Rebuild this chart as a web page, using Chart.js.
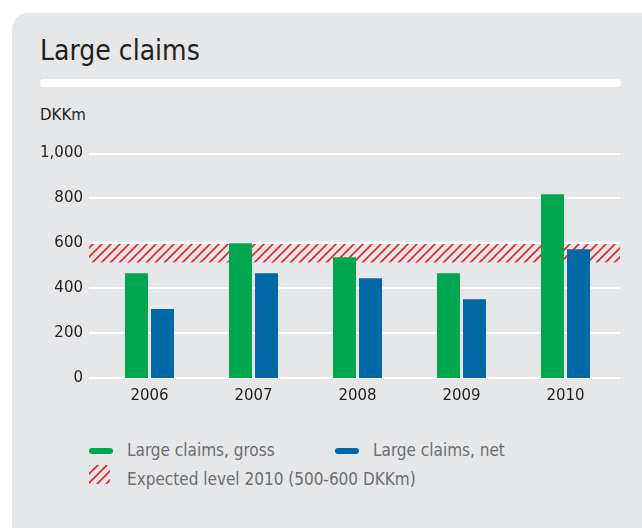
<!DOCTYPE html>
<html>
<head>
<meta charset="utf-8">
<script src="https://cdn.jsdelivr.net/npm/chart.js@4/dist/chart.umd.min.js"></script>
<style>
  html, body { margin: 0; padding: 0; background: #ffffff; width: 642px; height: 528px; overflow: hidden; }
  #card { position: absolute; left: 12px; top: 13px; width: 645px; height: 530px; background: #e6e7e8; border-radius: 16px; }
  #title { position: absolute; left: 40px; top: 37px; font-family: "DejaVu Sans Condensed", "DejaVu Sans", sans-serif; font-size: 28px; color: #231f20; line-height: 1; white-space: nowrap; }
  #rule { position: absolute; left: 40px; top: 79px; width: 581px; height: 8px; background: #ffffff; border-radius: 4px; }
  #unit { position: absolute; left: 40px; top: 108px; font-family: "DejaVu Sans", sans-serif; font-size: 15px; color: #231f20; line-height: 1; }
  #wrap { position: absolute; left: 0; top: 130px; width: 642px; height: 280px; }
  .leg { position: absolute; font-family: "DejaVu Sans Condensed", "DejaVu Sans", sans-serif; font-size: 17px; color: #6d6e71; line-height: 1; white-space: nowrap; }
  .mk { position: absolute; width: 24px; height: 6px; border-radius: 3px; }
</style>
</head>
<body>
<div id="card"></div>
<div id="title">Large claims</div>
<div id="rule"></div>
<div id="unit">DKKm</div>
<div id="wrap"><canvas id="c" width="642" height="280"></canvas></div>
<div class="mk" id="mk0" style="left:89px; top:448px;"></div>
<div class="leg" id="lg0" style="left:127px; top:442px;"></div>
<div class="mk" id="mk1" style="left:335px; top:448px;"></div>
<div class="leg" id="lg1" style="left:373px; top:442px;"></div>
<canvas id="mk2" width="21" height="19" style="position:absolute; left:89px; top:465px;"></canvas>
<div class="leg" id="lg2" style="left:127px; top:471px;"></div>
<script>
// ---- data ----
const years = ['2006', '2007', '2008', '2009', '2010'];
const grossValues = [467, 600, 538, 467, 818];
const netValues = [307, 467, 444, 351, 573];
const expectedLow = 515;
const expectedHigh = 600;
const yTicks = [0, 200, 400, 600, 800, 1000];
const seriesLabels = ['Large claims, gross', 'Large claims, net', 'Expected level 2010 (500-600 DKKm)'];

// ---- styles ----
const GREEN = '#00a650';
const BLUE = '#0068a5';
const RED = '#e8242b';

function makeHatch(ctx) {
  const p = document.createElement('canvas');
  p.width = 9; p.height = 9;
  const g = p.getContext('2d');
  g.strokeStyle = RED;
  g.lineWidth = 1.6;
  g.beginPath();
  g.moveTo(-1, 10); g.lineTo(10, -1);
  g.moveTo(-2, 2); g.lineTo(2, -2);
  g.moveTo(7, 11); g.lineTo(11, 7);
  g.stroke();
  return ctx.createPattern(p, 'repeat');
}

document.getElementById('mk0').style.background = GREEN;
document.getElementById('mk1').style.background = BLUE;
document.getElementById('lg0').textContent = seriesLabels[0];
document.getElementById('lg1').textContent = seriesLabels[1];
document.getElementById('lg2').textContent = seriesLabels[2];
(function () {
  const c = document.getElementById('mk2');
  const g = c.getContext('2d');
  g.fillStyle = makeHatch(g);
  g.fillRect(0, 0, c.width, c.height);
})();

const GRID_LEFT = 89, GRID_RIGHT = 620;

const backdrop = {
  id: 'backdrop',
  beforeDatasetsDraw(chart) {
    const ctx = chart.ctx;
    const ys = chart.scales.y;
    ctx.save();
    const top = ys.getPixelForValue(expectedHigh);
    const bot = ys.getPixelForValue(expectedLow);
    ctx.fillStyle = makeHatch(ctx);
    ctx.fillRect(GRID_LEFT, top, GRID_RIGHT - GRID_LEFT, bot - top);
    ctx.strokeStyle = '#ffffff';
    ctx.lineWidth = 2;
    yTicks.forEach(v => {
      const y = Math.round(ys.getPixelForValue(v));
      ctx.beginPath();
      ctx.moveTo(GRID_LEFT, y);
      ctx.lineTo(GRID_RIGHT, y);
      ctx.stroke();
    });
    ctx.restore();
  }
};

new Chart(document.getElementById('c'), {
  type: 'bar',
  data: {
    labels: years,
    datasets: [
      { label: seriesLabels[0], data: grossValues, backgroundColor: GREEN, borderWidth: 0 },
      { label: seriesLabels[1], data: netValues, backgroundColor: BLUE, borderWidth: 0 }
    ]
  },
  options: {
    responsive: false,
    animation: false,
    devicePixelRatio: 1,
    layout: { padding: { left: 0, right: 24.5, top: 23, bottom: 0 } },
    plugins: { legend: { display: false }, tooltip: { enabled: false } },
    datasets: { bar: { categoryPercentage: 0.5, barPercentage: 0.885 } },
    scales: {
      x: {
        grid: { display: false, drawTicks: false },
        border: { display: false },
        ticks: { color: '#231f20', font: { family: 'DejaVu Sans', size: 15 }, padding: 9 },
        afterFit(s) { s.height = 32; }
      },
      y: {
        min: yTicks[0],
        max: yTicks[yTicks.length - 1],
        afterBuildTicks(s) { s.ticks = yTicks.map(v => ({ value: v })); },
        grid: { display: false, drawTicks: false },
        border: { display: false },
        ticks: {
          color: '#231f20',
          font: { family: 'DejaVu Sans', size: 15 },
          padding: 14.5,
          callback: v => v.toLocaleString('en-US')
        },
        afterFit(s) { s.width = 97.5; }
      }
    }
  },
  plugins: [backdrop]
});
</script>
</body>
</html>
